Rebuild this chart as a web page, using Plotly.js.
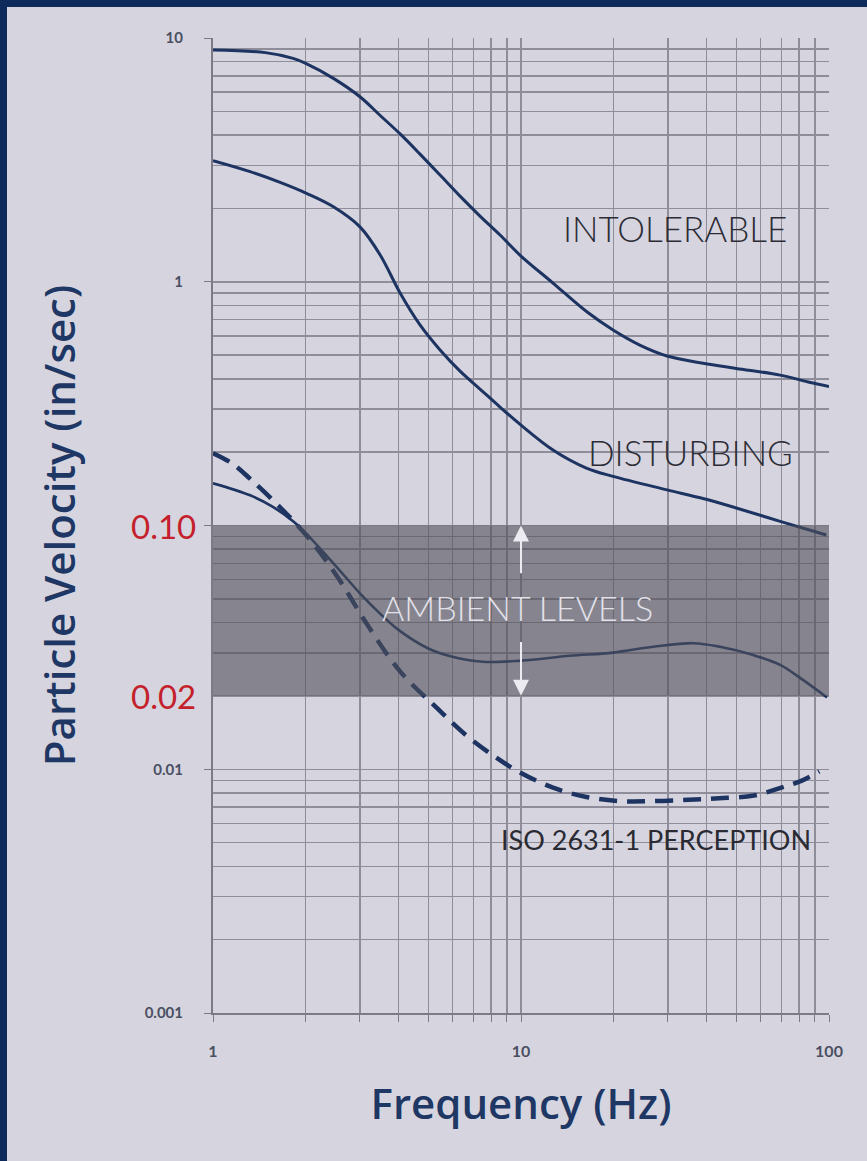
<!DOCTYPE html>
<html>
<head>
<meta charset="utf-8">
<script src="https://cdn.plot.ly/plotly-3.0.1.min.js"></script>
<style>
  html, body { margin: 0; padding: 0; background: #d6d5df; }
  #frame { width: 860px; height: 1154px; border-top: 7px solid #0e2a5a; border-left: 7px solid #0e2a5a; }
</style>
</head>
<body>
<div id="frame"><div id="chart"></div></div>
<script>
// Vibration criteria curves: particle velocity (in/sec) versus frequency (Hz)
const intolerableFreq = [1, 1.48, 1.82, 2, 2.46, 3, 3.49, 4.05, 4.7, 5.46, 6.34, 7.36, 8.55, 10, 12.7, 16.4, 19.9, 24.3, 29.8, 39, 50, 69.4, 87, 100];
const intolerableVel  = [8.93, 8.71, 8.25, 7.87, 6.83, 5.74, 4.81, 4.04, 3.34, 2.74, 2.245, 1.86, 1.555, 1.275, 0.988, 0.751, 0.634, 0.55, 0.496, 0.463, 0.441, 0.414, 0.386, 0.372];

const disturbingFreq = [1, 1.32, 1.66, 2.02, 2.46, 3, 3.49, 4.05, 4.7, 5.46, 6.34, 7.36, 8.55, 10, 12.7, 16.3, 19.9, 29.8, 39, 50, 69.4, 98];
const disturbingVel  = [3.14, 2.83, 2.55, 2.3, 2.03, 1.68, 1.288, 0.899, 0.665, 0.525, 0.43, 0.363, 0.306, 0.258, 0.204, 0.172, 0.159, 0.14, 0.129, 0.118, 0.104, 0.0914];

const lowerFreq = [1, 1.32, 1.57, 1.82, 2, 2.46, 3, 3.48, 4, 5, 5.95, 7.5, 10, 14.4, 19.9, 26.9, 36.3, 44.3, 56.8, 69.4, 82.5, 98.5];
const lowerVel  = [0.149, 0.133, 0.119, 0.104, 0.093, 0.07, 0.0527, 0.0436, 0.0373, 0.0313, 0.029, 0.0276, 0.0279, 0.0292, 0.0301, 0.0318, 0.0329, 0.0318, 0.0294, 0.0268, 0.0232, 0.0197];

const isoFreq = [1, 1.16, 1.33, 1.66, 2.07, 2.55, 3.16, 4.05, 5.34, 6.63, 8.36, 9.93, 12.7, 16.3, 21, 27, 35, 44, 57, 70, 82, 93];
const isoVel  = [0.198, 0.179, 0.154, 0.118, 0.0872, 0.0609, 0.0394, 0.0252, 0.0178, 0.0138, 0.0111, 0.0097, 0.0084, 0.0077, 0.0074, 0.0074, 0.0075, 0.0076, 0.0078, 0.0084, 0.009, 0.0098];

// Ambient band limits and axis ticks
const ambientLow = 0.02;
const ambientHigh = 0.10;
const xTickVals = [1, 10, 100];
const xTickText = ['1', '10', '100'];
const yTickVals = [0.001, 0.01, 0.1, 1, 10];
const yTickText = ['0.001', '0.01', '', '1', '10'];
const bandLabels = ['0.10', '0.02'];

const navy = '#1d3361';
const gridColor = '#8e8d99';
const font = 'Lato, "Open Sans", sans-serif';
const titleFont = '"Open Sans", Lato, sans-serif';
const lg = Math.log10;

const curve = (x, y, w, dash) => ({
  type: 'scatter', mode: 'lines', x: x, y: y, hoverinfo: 'skip', showlegend: false,
  line: { color: navy, width: w, shape: 'spline', smoothing: 1, dash: dash || 'solid' }
});

const traces = [
  curve(intolerableFreq, intolerableVel, 3),
  curve(disturbingFreq, disturbingVel, 3),
  curve(lowerFreq, lowerVel, 2.6),
  curve(isoFreq, isoVel, 4.5, '18px,10px')
];

const label = (text, x, y, size, color, weight) => ({
  text: text, x: x, y: y, xref: 'x', yref: 'y', showarrow: false,
  xanchor: 'center', yanchor: 'middle',
  font: { family: font, size: size, color: color, weight: weight || 400 }
});

const arrow = (tip, tail) => ({
  text: ' ', x: 1, y: lg(tip), ax: 1, ay: lg(tail), xref: 'x', yref: 'y', axref: 'x', ayref: 'y',
  showarrow: true, arrowhead: 2, arrowsize: 1.6, arrowwidth: 2, arrowcolor: '#ebebf1', standoff: 0
});

const annotations = [
  label('INTOLERABLE', 1.5, lg(1.66), 35, '#2c2c36', 300),
  label('DISTURBING', 1.549, lg(0.2), 35, '#2c2c36', 300),
  label('AMBIENT LEVELS', 0.99, lg(0.046), 34, '#e2e1ea', 300),
  label('ISO 2631-1 PERCEPTION', 1.438, lg(0.00513), 27, '#2a2a33', 400),
  arrow(ambientHigh, 0.058),
  arrow(ambientLow, 0.0366),
  { text: bandLabels[0], xref: 'paper', yref: 'y', x: -0.024, y: lg(ambientHigh), xanchor: 'right', yanchor: 'middle',
    showarrow: false, font: { family: font, size: 33, color: '#c41f2b' } },
  { text: bandLabels[1], xref: 'paper', yref: 'y', x: -0.024, y: lg(ambientLow), xanchor: 'right', yanchor: 'middle',
    showarrow: false, font: { family: font, size: 33, color: '#c41f2b' } }
];

const layout = {
  width: 860, height: 1154,
  margin: { l: 206, r: 38, t: 31, b: 148 },
  paper_bgcolor: '#d6d5df', plot_bgcolor: '#d6d5df',
  showlegend: false,
  xaxis: {
    type: 'log', range: [0, 2], tickvals: xTickVals, ticktext: xTickText,
    showgrid: true, gridcolor: gridColor, gridwidth: 1.5, zeroline: false,
    showline: true, linecolor: '#7b7a86', linewidth: 2,
    ticks: 'outside', ticklen: 7, tickcolor: '#7b7a86', ticklabelstandoff: 16,
    minor: { dtick: 'D1', showgrid: true, gridcolor: gridColor, gridwidth: 1.5, ticks: 'outside', ticklen: 7, tickcolor: '#7b7a86' },
    tickfont: { family: font, size: 16, color: '#4a4f62', weight: 700 },
    title: { text: 'Frequency (Hz)', standoff: 30, font: { family: titleFont, size: 42, color: '#1e3764', weight: 600 } }
  },
  yaxis: {
    type: 'log', range: [-3, 1], tickvals: yTickVals, ticktext: yTickText,
    showgrid: true, gridcolor: gridColor, gridwidth: 1.5, zeroline: false,
    showline: true, linecolor: '#7b7a86', linewidth: 2,
    ticks: 'outside', ticklen: 7, tickcolor: '#7b7a86', ticklabelstandoff: 18,
    minor: { dtick: 'D1', showgrid: true, gridcolor: gridColor, gridwidth: 1.5 },
    tickfont: { family: font, size: 15, color: '#4a4f62', weight: 700 },
    title: { text: 'Particle Velocity (in/sec)', standoff: 56, font: { family: titleFont, size: 42, color: '#1e3764', weight: 600 } }
  },
  shapes: [{
    type: 'rect', layer: 'above', xref: 'paper', x0: 0, x1: 1, yref: 'y',
    y0: ambientLow, y1: ambientHigh,
    fillcolor: 'rgba(80,80,90,0.6)', line: { width: 0 }
  }],
  annotations: annotations
};

Plotly.newPlot('chart', traces, layout, { displayModeBar: false, staticPlot: true });
</script>
</body>
</html>
